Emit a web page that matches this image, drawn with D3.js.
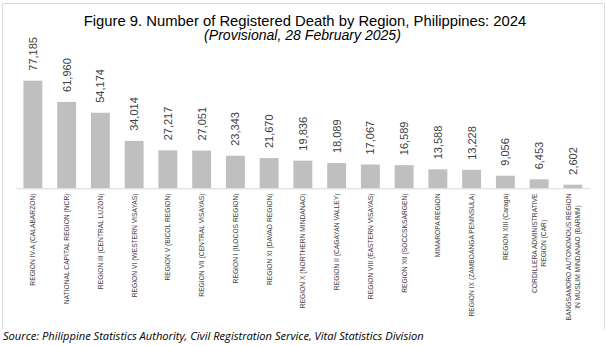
<!DOCTYPE html>
<html><head><meta charset="utf-8">
<script src="https://cdn.jsdelivr.net/npm/d3@7"></script>
<style>body{margin:0;background:#fff}svg{display:block}</style>
</head><body>
<svg id="chart" width="607" height="346"></svg>
<script>
const regions = [
  ["REGION IV-A (CALABARZON)"],
  ["NATIONAL CAPITAL REGION (NCR)"],
  ["REGION III (CENTRAL LUZON)"],
  ["REGION VI (WESTERN VISAYAS)"],
  ["REGION V (BICOL REGION)"],
  ["REGION VII (CENTRAL VISAYAS)"],
  ["REGION I (ILOCOS REGION)"],
  ["REGION XI (DAVAO REGION)"],
  ["REGION X (NORTHERN MINDANAO)"],
  ["REGION II (CAGAYAN VALLEY)"],
  ["REGION VIII (EASTERN VISAYAS)"],
  ["REGION XII (SOCCSKSARGEN)"],
  ["MIMAROPA REGION"],
  ["REGION IX (ZAMBOANGA PENINSULA)"],
  ["REGION XIII (Caraga)"],
  ["CORDILLERA ADMINISTRATIVE", "REGION (CAR)"],
  ["BANGSAMORO AUTONOMOUS REGION", "IN MUSLIM MINDANAO (BARMM)"]
];
const deaths = [77185, 61960, 54174, 34014, 27217, 27051, 23343, 21670, 19836, 18089, 17067, 16589, 13588, 13228, 9056, 6453, 2602];
const titleText = "Figure 9. Number of Registered Death by Region, Philippines: 2024";
const subtitleText = "(Provisional, 28 February 2025)";
const sourceText = "Source: Philippine Statistics Authority, Civil Registration Service, Vital Statistics Division";

const svg = d3.select("#chart");
const fmt = d3.format(",");

// frame (no bottom edge visible)
svg.append("path")
  .attr("d", "M2.5,329 L2.5,3.5 L604.5,3.5 L604.5,329")
  .attr("fill", "none").attr("stroke", "#d9d9d9").attr("stroke-width", 1);

function fitText(sel, target) {
  const node = sel.node();
  const len = node.getComputedTextLength();
  const fs = parseFloat(sel.attr("font-size"));
  sel.attr("font-size", (fs * target / len).toFixed(2));
}

const title = svg.append("text").attr("x", 305).attr("y", 25.5)
  .attr("text-anchor", "middle").attr("font-family", "Liberation Sans, Arial, sans-serif")
  .attr("font-size", 14).attr("fill", "#000").text(titleText);
fitText(title, 443);

const sub = svg.append("text").attr("x", 302.5).attr("y", 40)
  .attr("text-anchor", "middle").attr("font-family", "Liberation Sans, Arial, sans-serif")
  .attr("font-style", "italic").attr("font-size", 14).attr("fill", "#000").text(subtitleText);
fitText(sub, 197);

const x = d3.scaleBand().domain(d3.range(deaths.length)).range([16, 589.75])
  .paddingInner(0.44).paddingOuter(0.22);
const y = d3.scaleLinear().domain([0, 90000]).range([188.3, 62.8]);

svg.append("g").selectAll("rect").data(deaths).join("rect")
  .attr("x", (d, i) => x(i)).attr("width", x.bandwidth())
  .attr("y", d => y(d)).attr("height", d => y(0) - y(d))
  .attr("fill", "#bfbfbf");

// axis line
const axis = svg.append("g").attr("transform", `translate(0,${y(0)})`)
  .call(d3.axisBottom(x).tickSize(0).tickFormat(""));
axis.select(".domain").attr("stroke", "#d9d9d9").attr("stroke-width", 1);

// value labels
svg.append("g").selectAll("text").data(deaths).join("text")
  .attr("transform", (d, i) => `translate(${x(i) + x.bandwidth() / 2 + 3.9},${y(d) - 10}) rotate(-90)`)
  .attr("text-anchor", "start")
  .attr("font-family", "Liberation Sans, Arial, sans-serif")
  .attr("font-size", 11).attr("fill", "#404040")
  .text(d => fmt(d));

// category labels
const catG = svg.append("g");
regions.forEach((lines, i) => {
  const cx = x(i) + x.bandwidth() / 2;
  const lh = 8.8;
  const g = catG.append("g");
  const texts = lines.map((ln, j) => g.append("text")
    .attr("font-family", "Liberation Sans, Arial, sans-serif")
    .attr("font-size", 6.7).attr("fill", "#404040").text(ln));
  const lens = texts.map(t => t.node().getComputedTextLength());
  const maxLen = d3.max(lens);
  const top = 193.5;
  const mid = top + maxLen / 2;
  texts.forEach((t, j) => {
    const off = (j - (lines.length - 1) / 2) * lh + 2.4;
    t.attr("text-anchor", "middle")
     .attr("transform", `translate(${cx + off},${mid}) rotate(-90)`);
  });
});

const src = svg.append("text").attr("x", 3).attr("y", 340)
  .attr("font-family", "Open Sans, Liberation Sans, sans-serif")
  .attr("font-style", "italic").attr("font-size", 11).attr("fill", "#000").text(sourceText);
fitText(src, 421);
</script>
</body></html>
